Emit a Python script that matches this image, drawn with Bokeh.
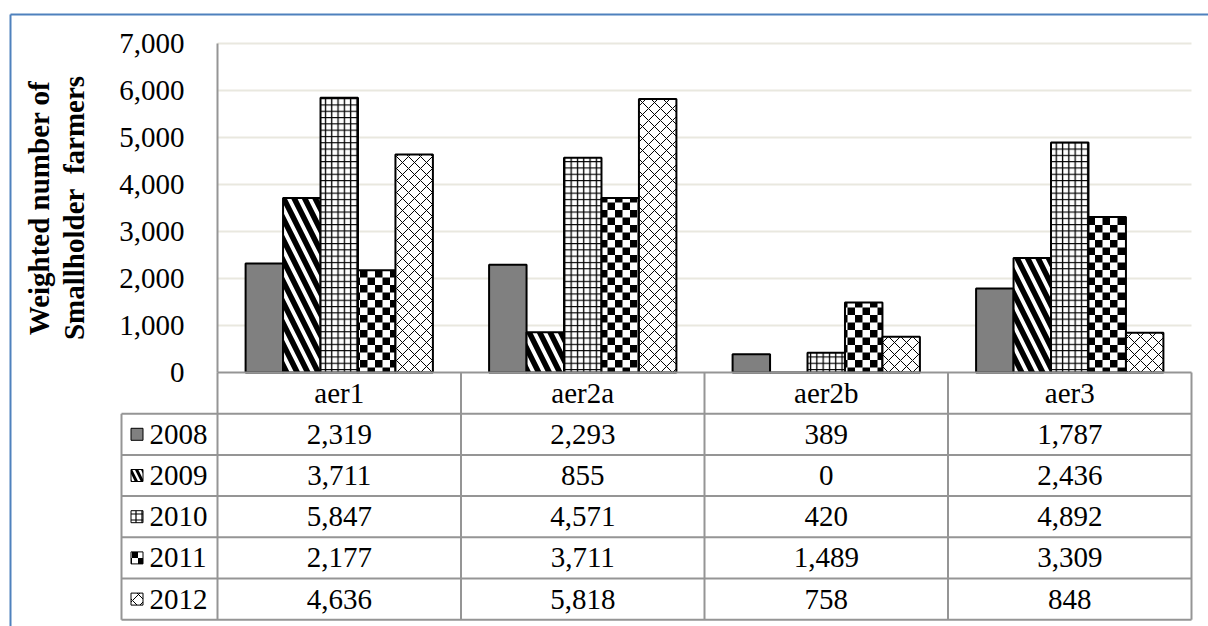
import base64

import numpy as np
from bokeh.core.properties import value
from bokeh.embed import file_html
from bokeh.models import (ColumnDataSource, FixedTicker, Grid, ImageURLTexture,
                          NumeralTickFormatter, Range1d)
from bokeh.plotting import figure
from bokeh.resources import INLINE

# ---- data -------------------------------------------------------------------
regions = ["aer1", "aer2a", "aer2b", "aer3"]
years = ["2008", "2009", "2010", "2011", "2012"]
farmers_2008 = [2319, 2293, 389, 1787]
farmers_2009 = [3711, 855, 0, 2436]
farmers_2010 = [5847, 4571, 420, 4892]
farmers_2011 = [2177, 3711, 1489, 3309]
farmers_2012 = [4636, 5818, 758, 848]
y_ticks = [0, 1000, 2000, 3000, 4000, 5000, 6000, 7000]
y_label = "Weighted number of\nSmallholder\u00a0 farmers"

series = dict(zip(years, [farmers_2008, farmers_2009, farmers_2010,
                          farmers_2011, farmers_2012]))

# ---- layout (pixels) --------------------------------------------------------
W, H = 1208, 626
PLOT_L, PLOT_R = 217, 1191      # category block of the chart / table
TOP_PX, ZERO_PX = 43, 372       # y = max tick and y = 0
TABLE_L = 121                   # left edge of the legend column
ROW_H = 41.2                    # table row height
BOX_X, BOX_Y = 10, 14           # outer frame corner
FONT = "Liberation Serif"
FS = "29px"
GRAY = "#959595"
GRID = "#e9e8df"
BLUE = "#4f81bd"

n_cat = len(regions)
cat_px = (PLOT_R - PLOT_L) / n_cat
y_max = y_ticks[-1]
ppu = (ZERO_PX - TOP_PX) / y_max


def xd(px):
    return (px - PLOT_L) / cat_px


def rd(py):
    return (py - ZERO_PX) / ROW_H


p = figure(width=W, height=H, output_backend="svg", toolbar_location=None,
           x_range=Range1d(xd(0), xd(W)),
           y_range=Range1d(-(H - ZERO_PX) / ppu, y_max + TOP_PX / ppu),
           x_axis_location=None, min_border=0, min_border_left=0,
           min_border_right=0, min_border_top=0, min_border_bottom=0,
           outline_line_color=None, background_fill_color="white",
           border_fill_color="white")
# table rows: row 0 = header, rows 1..5 = series; counted downward
p.extra_y_ranges = {"rows": Range1d(start=rd(H), end=rd(0))}

# ---- y axis drawn on the category block's left edge --------------------------
ax = p.yaxis[0]
ax.fixed_location = 0
ax.bounds = (0, y_max)
ax.ticker = FixedTicker(ticks=y_ticks)
ax.formatter = NumeralTickFormatter(format="0,0")
ax.major_tick_in = 0
ax.major_tick_out = 0
ax.minor_tick_in = 0
ax.minor_tick_out = 0
ax.major_label_standoff = 33
ax.axis_line_color = GRAY
ax.axis_line_width = 2
ax.major_label_text_font = FONT
ax.major_label_text_font_size = FS
ax.major_label_text_color = "black"
ax.axis_label = y_label
ax.axis_label_text_font = FONT
ax.axis_label_text_font_size = FS
ax.axis_label_text_font_style = "bold"
ax.axis_label_text_color = "black"
ax.axis_label_text_line_height = 1.1
ax.axis_label_standoff = 26

# ---- horizontal gridlines ----------------------------------------------------
for g in p.xgrid:
    g.grid_line_color = None
yg = p.ygrid[0]
if "cross_bounds" in Grid.properties():
    yg.ticker = FixedTicker(ticks=y_ticks[1:])
    yg.cross_bounds = (0, n_cat)
    yg.grid_line_color = GRID
    yg.grid_line_width = 2
else:
    yg.grid_line_color = None
    p.segment(x0=0, x1=n_cat, y0=y_ticks[1:], y1=y_ticks[1:],
              line_color=GRID, line_width=2)

# ---- fill patterns ----------------------------------------------------------
checker_svg = ("<svg xmlns='http://www.w3.org/2000/svg' width='15' height='15'>"
               "<rect width='15' height='15' fill='white'/>"
               "<rect width='7.5' height='7.5' fill='black'/>"
               "<rect x='7.5' y='7.5' width='7.5' height='7.5' fill='black'/>"
               "</svg>")
checker_url = "data:image/svg+xml;base64," + base64.b64encode(checker_svg.encode()).decode()
checker_icon_svg = checker_svg.replace("15", "12").replace("7.5", "6")
checker_icon_url = "data:image/svg+xml;base64," + base64.b64encode(checker_icon_svg.encode()).decode()

styles = {
    "2008": dict(fill_color="#808080"),
    "2009": dict(fill_color="white", hatch_pattern="left_diagonal_line",
                 hatch_scale=21, hatch_weight=5.5),
    "2010": dict(fill_color="white", hatch_pattern="cross",
                 hatch_scale=6.3, hatch_weight=1.3),
    "2011": dict(fill_color="white", hatch_pattern=value("checker"),
                 hatch_extra={"checker": ImageURLTexture(url=checker_url, repetition="repeat")}),
    "2012": dict(fill_color="white", hatch_pattern="diagonal_cross",
                 hatch_scale=12, hatch_weight=1),
}
icon_styles = {
    "2008": dict(fill_color="#808080"),
    "2009": dict(fill_color="white", hatch_pattern="left_diagonal_line",
                 hatch_scale=12, hatch_weight=3),
    "2010": dict(fill_color="white", hatch_pattern="cross",
                 hatch_scale=6, hatch_weight=1.2),
    "2011": dict(fill_color="white", hatch_pattern=value("checker_icon"),
                 hatch_extra={"checker_icon": ImageURLTexture(url=checker_icon_url, repetition="repeat")}),
    "2012": dict(fill_color="white", hatch_pattern="diagonal_cross",
                 hatch_scale=12, hatch_weight=1),
}

# ---- clustered bars ---------------------------------------------------------
n_ser = len(years)
bar_w = 1 / (n_ser + 1.5)
cat_idx = np.arange(n_cat)
for j, yr in enumerate(years):
    src = ColumnDataSource(dict(x=cat_idx + 0.5 + (j - (n_ser - 1) / 2) * bar_w,
                                top=series[yr]))
    p.vbar(x="x", top="top", bottom=0, width=bar_w, source=src,
           line_color="black", line_width=2, hatch_color="black",
           **styles[yr])

# ---- data table under the chart ---------------------------------------------
n_rows = n_ser + 1
tl = xd(TABLE_L)
# horizontal rules
p.segment(x0=0, x1=n_cat, y0=0, y1=0, line_color=GRAY, line_width=2,
          y_range_name="rows")
p.segment(x0=[tl] * n_ser, x1=[n_cat] * n_ser,
          y0=list(range(1, n_rows)), y1=list(range(1, n_rows)),
          line_color=GRAY, line_width=2, y_range_name="rows")
p.segment(x0=tl, x1=n_cat, y0=n_rows, y1=n_rows, line_color=GRAY,
          line_width=2, y_range_name="rows")
# vertical rules
p.segment(x0=list(range(n_cat + 1)), x1=list(range(n_cat + 1)),
          y0=0, y1=n_rows, line_color=GRAY, line_width=2, y_range_name="rows")
p.segment(x0=tl, x1=tl, y0=1, y1=n_rows, line_color=GRAY, line_width=2,
          y_range_name="rows")

# header: region names
p.text(x=cat_idx + 0.5, y=[0.5] * n_cat, text=regions, y_range_name="rows",
       text_font=value(FONT), text_font_size=FS, text_align="center",
       text_baseline="middle", text_color="black")

# values and legend keys
for j, yr in enumerate(years):
    row_y = j + 1.5
    p.text(x=cat_idx + 0.5, y=[row_y] * n_cat,
           text=[f"{v:,}" for v in series[yr]], y_range_name="rows",
           text_font=value(FONT), text_font_size=FS, text_align="center",
           text_baseline="middle", text_color="black")
    p.rect(x=xd(136.5), y=row_y, width=12, height=12, width_units="screen",
           height_units="screen", y_range_name="rows", line_color="black",
           line_width=1, hatch_color="black", **icon_styles[yr])
    p.text(x=[xd(149)], y=[row_y], text=[yr], y_range_name="rows",
           text_font=value(FONT), text_font_size=FS, text_align="left",
           text_baseline="middle", text_color="black")

# ---- outer frame (top and left edges) ---------------------------------------
p.segment(x0=[xd(BOX_X), xd(BOX_X)], x1=[xd(W + 5), xd(BOX_X)],
          y0=[rd(BOX_Y), rd(BOX_Y)], y1=[rd(BOX_Y), rd(H + 5)],
          line_color=BLUE, line_width=2, y_range_name="rows")

open("out.html", "w").write(file_html(p, INLINE))
